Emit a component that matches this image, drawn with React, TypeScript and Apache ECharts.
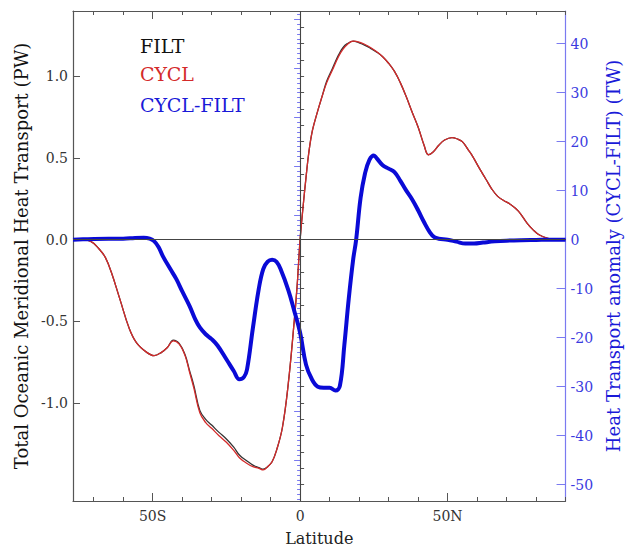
import React, { useEffect, useRef } from "react";
import * as echarts from "echarts";

// Latitude (deg, negative = S) and CYCL total heat transport (PW)
const cyclLat = [-77, -74, -71, -68, -66, -64, -61, -58, -55.5, -52, -49.5, -47, -45, -43, -41, -39, -37.5, -36, -34, -32, -30, -27.5, -25, -22.5, -20.5, -18, -16, -14, -12.5, -11, -9.5, -8, -6, -4, -2, -1, 0, 1, 2, 3, 4.2, 6, 7.5, 9, 11, 13, 14.5, 16, 18, 20, 22, 24, 26, 28, 30, 32, 34, 36, 38, 40, 42, 43.5, 45, 47, 49, 51.5, 53.5, 55, 57, 58.5, 61, 63, 65, 67, 69, 71, 74, 77, 79, 81, 84, 87, 90];
const cyclPW = [0, -0.002, -0.01, -0.06, -0.11, -0.2, -0.37, -0.54, -0.63, -0.69, -0.71, -0.69, -0.66, -0.62, -0.64, -0.71, -0.81, -0.91, -1.06, -1.12, -1.155, -1.2, -1.24, -1.29, -1.337, -1.37, -1.39, -1.4, -1.41, -1.39, -1.36, -1.29, -1.15, -0.88, -0.5, -0.28, 0, 0.2, 0.38, 0.54, 0.67, 0.79, 0.88, 0.96, 1.04, 1.12, 1.165, 1.195, 1.215, 1.21, 1.195, 1.175, 1.15, 1.12, 1.08, 1.03, 0.96, 0.875, 0.78, 0.69, 0.58, 0.52, 0.535, 0.578, 0.61, 0.625, 0.615, 0.6, 0.55, 0.51, 0.43, 0.37, 0.31, 0.265, 0.24, 0.22, 0.175, 0.1, 0.06, 0.03, 0.008, 0, 0];

// FILT total heat transport (PW), same latitudes
const filtPW = [0, -0.002, -0.01, -0.06, -0.11, -0.2, -0.37, -0.54, -0.63, -0.69, -0.71, -0.69, -0.66, -0.615, -0.635, -0.705, -0.8, -0.895, -1.045, -1.1, -1.135, -1.18, -1.22, -1.27, -1.32, -1.355, -1.38, -1.395, -1.405, -1.39, -1.36, -1.29, -1.15, -0.88, -0.5, -0.28, 0, 0.2, 0.38, 0.54, 0.67, 0.79, 0.88, 0.97, 1.05, 1.13, 1.175, 1.2, 1.215, 1.205, 1.19, 1.17, 1.148, 1.12, 1.08, 1.03, 0.96, 0.875, 0.78, 0.69, 0.58, 0.52, 0.535, 0.578, 0.61, 0.625, 0.615, 0.6, 0.55, 0.51, 0.43, 0.37, 0.31, 0.265, 0.24, 0.22, 0.175, 0.1, 0.06, 0.03, 0.008, 0, 0];

// CYCL-FILT anomaly (TW)
const diffLat = [-77, -72, -65, -60, -56, -53, -51, -49.5, -48, -46.5, -44, -42, -40, -37.5, -35.5, -34, -32, -30, -28, -25, -22.5, -20.6, -19, -18, -16, -14, -12.5, -11, -9.5, -8, -6.5, -4, -2, 0, 2, 4, 6, 8, 10, 12, 13.5, 15, 16.5, 18, 19, 20.5, 22, 23.5, 25, 26, 28, 30, 32, 34, 36, 38, 40, 42, 44, 45.5, 47, 50, 53, 56, 59, 62, 66, 70, 75, 80, 85, 90];
const diffTW = [0, 0.1, 0.2, 0.2, 0.35, 0.4, 0.2, -0.3, -1.5, -3.4, -6, -8, -10.5, -13.5, -16.3, -17.9, -19.3, -20.3, -21.6, -24.4, -26.8, -28.5, -28, -26.5, -18, -10, -6, -4.5, -4.1, -4.5, -6.2, -10.3, -14.5, -19, -25.5, -28.5, -30, -30.2, -30.2, -30.8, -29.8, -21.5, -12, -4, 0, 8.5, 13.5, 16.3, 17.2, 16.6, 15.2, 14.5, 13.8, 12, 10, 8.2, 6, 3.6, 1.5, 0.5, 0.2, 0, -0.4, -0.8, -0.8, -0.6, -0.35, -0.2, -0.1, -0.05, 0, 0];

const latMin = -77;
const latMax = 90;
const latMinorTicks = [-70, -60, -50, -40, -30, -20, -10, 0, 10, 20, 30, 40, 50, 60, 70, 80, 90];
const latMajorTicks = [-50, 0, 50];
const pwMin = -1.6;
const pwMax = 1.4;
const pwLabels = [-1.0, -0.5, 0.0, 0.5, 1.0];
const pwMinorTicks = [-1.5, -1.4, -1.3, -1.2, -1.1, -1.0, -0.9, -0.8, -0.7, -0.6, -0.5, -0.4, -0.3, -0.2, -0.1, 0, 0.1, 0.2, 0.3, 0.4, 0.5, 0.6, 0.7, 0.8, 0.9, 1.0, 1.1, 1.2, 1.3];
const twLabels = [-50, -40, -30, -20, -10, 0, 10, 20, 30, 40];
const twMid = [-45, -35, -25, -15, -5, 5, 15, 25, 35, 45];
const twMinor: number[] = [];
for (let v = -53; v <= 46; v++) twMinor.push(v);

const FONT = "DejaVu Serif";

function latLabel(v: number) {
  if (v < 0) return `${-v}S`;
  if (v > 0) return `${v}N`;
  return "0";
}

export default function App() {
  const ref = useRef<HTMLDivElement>(null);
  useEffect(() => {
    if (!ref.current) return;
    const chart = echarts.init(ref.current, undefined, { renderer: "svg" });
    const toPairs = (xs: number[], ys: number[]) => xs.map((x, i) => [x, ys[i]]);
    const axisGray = "#555";
    const blueAxis = "#7a7af0";
    const hidden = { show: false };
    const baseX = (pos: string, ticks: number[], len: number, showLine: boolean, labels: boolean) => ({
      type: "value",
      position: pos,
      min: latMin,
      max: latMax,
      axisLine: { show: showLine, onZero: false, lineStyle: { color: axisGray, width: 1.2 } },
      axisTick: { show: true, inside: true, length: len, customValues: ticks, lineStyle: { color: axisGray } },
      axisLabel: labels
        ? { show: true, customValues: latMajorTicks, formatter: (v: number) => latLabel(v), fontFamily: FONT, fontSize: 14, color: "#333", margin: 8 }
        : hidden,
      splitLine: hidden,
    });
    const option: any = {
      animation: false,
      backgroundColor: "#fff",
      grid: { left: 73, right: 62, top: 11, bottom: 44, containLabel: false },
      xAxis: [
        { ...baseX("bottom", latMinorTicks, 4, true, true), name: "Latitude", nameLocation: "middle", nameGap: 29, nameTextStyle: { fontFamily: FONT, fontSize: 16, color: "#222" } },
        baseX("bottom", latMajorTicks, 8, false, false),
        baseX("top", latMinorTicks, 4, true, false),
        baseX("top", latMajorTicks, 8, false, false),
      ],
      yAxis: [
        {
          type: "value",
          position: "left",
          min: pwMin,
          max: pwMax,
          name: "Total Oceanic Meridional Heat Transport (PW)",
          nameLocation: "middle",
          nameRotate: 90,
          nameGap: 42,
          nameTextStyle: { fontFamily: FONT, fontSize: 18, color: "#111" },
          axisLine: { show: true, onZero: false, lineStyle: { color: axisGray, width: 1.2 } },
          axisTick: { show: true, inside: true, length: 7, customValues: pwLabels, lineStyle: { color: axisGray } },
          axisLabel: { show: true, customValues: pwLabels, formatter: (v: number) => v.toFixed(1), fontFamily: FONT, fontSize: 14, color: "#333", margin: 5 },
          splitLine: hidden,
        },
        {
          type: "value",
          position: "left",
          min: pwMin,
          max: pwMax,
          axisLine: hidden,
          axisTick: { show: true, inside: true, length: 4, customValues: pwMinorTicks, lineStyle: { color: axisGray } },
          axisLabel: hidden,
          splitLine: hidden,
        },
        {
          type: "value",
          position: "right",
          min: pwMin * 100 / 3,
          max: pwMax * 100 / 3,
          name: "Heat Transport anomaly (CYCL-FILT) (TW)",
          nameLocation: "middle",
          nameRotate: 90,
          nameGap: 36,
          nameTextStyle: { fontFamily: FONT, fontSize: 18, color: "#1a1ad8" },
          axisLine: { show: true, onZero: false, lineStyle: { color: blueAxis, width: 1.2 } },
          axisTick: { show: true, inside: true, length: 9, customValues: twLabels, lineStyle: { color: blueAxis } },
          axisLabel: { show: true, customValues: twLabels, formatter: (v: number) => String(v), fontFamily: FONT, fontSize: 14, color: "#3a3ae0", margin: 5 },
          splitLine: hidden,
        },
        {
          type: "value",
          position: "right",
          min: pwMin * 100 / 3,
          max: pwMax * 100 / 3,
          axisLine: hidden,
          axisTick: { show: true, inside: true, length: 6, customValues: twMid, lineStyle: { color: blueAxis } },
          axisLabel: hidden,
          splitLine: hidden,
        },
        {
          type: "value",
          position: "right",
          min: pwMin * 100 / 3,
          max: pwMax * 100 / 3,
          axisLine: hidden,
          axisTick: { show: true, inside: true, length: 3, customValues: twMinor, lineStyle: { color: blueAxis } },
          axisLabel: hidden,
          splitLine: hidden,
        },
      ],
      series: [
        {
          name: "FILT",
          type: "line",
          xAxisIndex: 0,
          yAxisIndex: 0,
          data: toPairs(cyclLat, filtPW),
          smooth: 0.4,
          showSymbol: false,
          symbol: "none",
          lineStyle: { color: "#333", width: 1.3 },
          z: 2,
          markLine: {
            silent: true,
            symbol: "none",
            label: { show: false },
            lineStyle: { color: "#444", width: 1.1, type: "solid" },
            data: [{ xAxis: 0 }, { yAxis: 0 }],
          },
        },
        {
          name: "CYCL",
          type: "line",
          xAxisIndex: 0,
          yAxisIndex: 0,
          data: toPairs(cyclLat, cyclPW),
          smooth: 0.4,
          showSymbol: false,
          symbol: "none",
          lineStyle: { color: "#d42a2a", width: 1.3 },
          z: 3,
        },
        {
          name: "CYCL-FILT",
          type: "line",
          xAxisIndex: 0,
          yAxisIndex: 2,
          data: toPairs(diffLat, diffTW),
          smooth: 0.4,
          showSymbol: false,
          symbol: "none",
          lineStyle: { color: "#0a0ad6", width: 4 },
          z: 4,
        },
      ],
      graphic: [
        { type: "text", left: 140, top: 36, style: { text: "FILT", fill: "#111", font: `19px '${FONT}'` } },
        { type: "text", left: 140, top: 64, style: { text: "CYCL", fill: "#d42a2a", font: `19px '${FONT}'` } },
        { type: "text", left: 140, top: 95, style: { text: "CYCL-FILT", fill: "#1a1ad8", font: `19px '${FONT}'` } },
      ],
    };
    chart.setOption(option);
    return () => chart.dispose();
  }, []);
  return (
    <div
      ref={ref}
      style={{ position: "fixed", left: 0, top: 0, width: 630, height: 551, background: "#fff" }}
    />
  );
}
